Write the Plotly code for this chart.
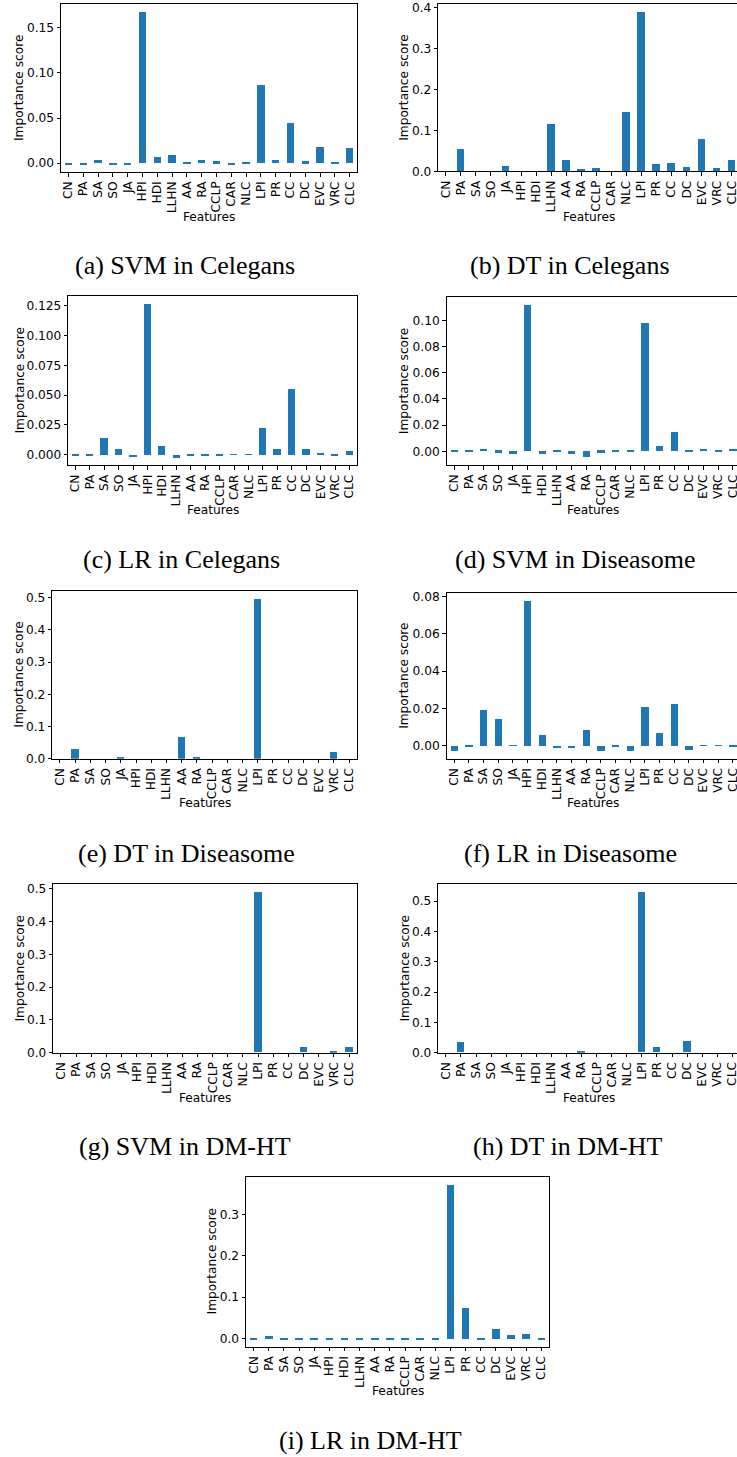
import plotly.graph_objects as go

features = ["CN", "PA", "SA", "SO", "JA", "HPI", "HDI", "LLHN", "AA", "RA",
            "CCLP", "CAR", "NLC", "LPI", "PR", "CC", "DC", "EVC", "VRC", "CLC"]

svm_celegans = [-0.0013, -0.0013, 0.0033, -0.0013, -0.0013, 0.168, 0.0066, 0.0088, 0.0011, 0.0033,
                0.0022, -0.0013, 0.0011, 0.0862, 0.0033, 0.0442, 0.0022, 0.0177, 0.0011, 0.0166]
dt_celegans = [0.0, 0.0545, 0.0, 0.0, 0.013, 0.0, 0.0, 0.1155, 0.0276, 0.0033,
               0.0081, 0.0, 0.1447, 0.388, 0.0179, 0.0203, 0.0106, 0.0789, 0.0081, 0.0276]
lr_celegans = [-0.0005, -0.0005, 0.0144, 0.0048, -0.002, 0.127, 0.0076, -0.0025, -0.0005, -0.0005,
               -0.0005, 0.0004, 0.0004, 0.0229, 0.0048, 0.0557, 0.0048, 0.0014, -0.0005, 0.0031]
svm_diseasome = [-0.0003, -0.0003, 0.0015, -0.0013, -0.002, 0.112, -0.002, -0.0003, -0.002, -0.0047,
                 -0.0013, -0.0003, -0.0003, 0.0982, 0.0041, 0.0148, -0.0003, 0.0015, -0.0003, 0.0018]
dt_diseasome = [0.0, 0.030, 0.0, 0.0, 0.005, 0.0, 0.0, 0.0, 0.0674, 0.005,
                0.0, 0.0, 0.0, 0.4967, 0.0, 0.0, 0.0, 0.0, 0.0207, 0.0]
lr_diseasome = [-0.0028, -0.0003, 0.0192, 0.0144, 0.0003, 0.0777, 0.0059, -0.0011, -0.0011, 0.0085,
                -0.0028, -0.0003, -0.0025, 0.0208, 0.0069, 0.0224, -0.002, 0.0003, 0.0003, -0.0003]
svm_dmht = [0.0, 0.0, 0.0, 0.0, 0.0, 0.0, 0.0, 0.0, 0.0, 0.0,
            0.0, 0.0, 0.0, 0.4898, 0.0, 0.0, 0.0174, 0.0, 0.004, 0.0174]
dt_dmht = [0.0, 0.0353, 0.0, 0.0, 0.0, 0.0, 0.0, 0.0, 0.0, 0.004,
           0.0, 0.0, 0.0, 0.5287, 0.0188, 0.0, 0.0386, 0.0, 0.0, 0.0]
lr_dmht = [-0.0015, 0.0065, -0.0015, -0.0015, -0.0015, -0.0015, -0.0015, -0.0015, -0.0015, -0.0015,
           -0.0015, -0.0015, -0.0015, 0.373, 0.0744, -0.0015, 0.0226, 0.0089, 0.0105, -0.0015]

captions = ["(a) SVM in Celegans", "(b) DT in Celegans", "(c) LR in Celegans",
            "(d) SVM in Diseasome", "(e) DT in Diseasome", "(f) LR in Diseasome",
            "(g) SVM in DM-HT", "(h) DT in DM-HT", "(i) LR in DM-HT"]

series = [svm_celegans, dt_celegans, lr_celegans, svm_diseasome, dt_diseasome,
          lr_diseasome, svm_dmht, dt_dmht, lr_dmht]

W, H = 737, 1457
BLUE = "#1f77b4"
FS = 12.2
TICKFONT = dict(family="DejaVu Sans", size=FS, color="black")

# pixel layout of each panel (axes box, range end, title / caption anchors)
panels = [
    dict(l=61, r=357, t=4, b=172, xend=19.5, right=True, dtick=0.05, fmt=".2f", yt=19, fy=217, cx=185, cy=265),
    dict(l=438.3, r=737, t=4.3, b=171.3, xend=19.35, right=False, dtick=0.1, fmt=".1f", yt=404, fy=217, cx=570, cy=265),
    dict(l=68.3, r=356.7, t=295.7, b=465.3, xend=19.5, right=True, dtick=0.025, fmt=".3f", yt=19, fy=510, cx=181, cy=559),
    dict(l=446.7, r=737, t=297.3, b=465, xend=19.29, right=False, dtick=0.02, fmt=".2f", yt=404, fy=510, cx=575, cy=559),
    dict(l=52.3, r=356.7, t=590.7, b=758.7, xend=19.5, right=True, dtick=0.1, fmt=".1f", yt=19, fy=803, cx=186, cy=854),
    dict(l=446.7, r=737, t=593, b=758.7, xend=19.29, right=False, dtick=0.02, fmt=".2f", yt=404, fy=803, cx=570, cy=854),
    dict(l=53.3, r=356.7, t=884.3, b=1052.7, xend=19.5, right=True, dtick=0.1, fmt=".1f", yt=19, fy=1098, cx=185, cy=1146),
    dict(l=438.3, r=737, t=884.3, b=1052.7, xend=19.31, right=False, dtick=0.1, fmt=".1f", yt=404, fy=1098, cx=568, cy=1146),
    dict(l=246, r=549, t=1176.7, b=1346.7, xend=19.5, right=True, dtick=0.1, fmt=".1f", yt=211.7, fy=1391, cx=370, cy=1440),
]


def yrange(vals):
    lo = min(min(vals), 0.0)
    hi = max(max(vals), 0.0)
    span = hi - lo
    bottom = lo - 0.05 * span if lo < 0 else 0.0
    top = hi + 0.05 * span if hi > 0 else 0.0
    return [bottom, top]


fig = go.Figure()
annotations = []
for i, (vals, p, cap) in enumerate(zip(series, panels, captions), start=1):
    sfx = "" if i == 1 else str(i)
    fig.add_trace(go.Bar(x=features, y=vals, width=0.5, marker=dict(color=BLUE, line=dict(width=0)),
                         xaxis="x" + sfx, yaxis="y" + sfx, showlegend=False))
    xd = [p["l"] / W, min(p["r"] / W, 1.0)]
    yd = [1 - p["b"] / H, 1 - p["t"] / H]
    fig.layout["xaxis" + sfx] = dict(
        domain=xd, anchor="y" + sfx, type="category", categoryorder="array", categoryarray=features,
        tickmode="array", tickvals=features, ticktext=features,
        range=[-0.5, p["xend"]], tickangle=-90, ticks="outside", ticklen=3.5, tickwidth=0.9,
        tickcolor="black", showline=True, linecolor="black", linewidth=1, mirror=True,
        showgrid=False, zeroline=False, tickfont=TICKFONT, automargin=False, fixedrange=True)
    fig.layout["yaxis" + sfx] = dict(
        domain=yd, anchor="x" + sfx, range=yrange(vals), dtick=p["dtick"], tick0=0,
        tickformat=p["fmt"], ticks="outside", ticklen=3.5, tickwidth=0.9, tickcolor="black",
        showline=True, linecolor="black", linewidth=1, mirror=p["right"], showgrid=False,
        zeroline=False, tickfont=TICKFONT, automargin=False, fixedrange=True)
    full_w = 20 * (p["r"] - p["l"]) / (p["xend"] + 0.5)
    annotations.append(dict(text="Importance score", x=p["yt"] / W, y=1 - (p["t"] + p["b"]) / 2 / H,
                            xref="paper", yref="paper", textangle=-90, showarrow=False,
                            xanchor="center", yanchor="middle",
                            font=dict(family="DejaVu Sans", size=FS, color="black")))
    annotations.append(dict(text="Features", x=(p["l"] + full_w / 2) / W,
                            y=1 - p["fy"] / H, xref="paper", yref="paper", showarrow=False,
                            xanchor="center", yanchor="middle",
                            font=dict(family="DejaVu Sans", size=FS, color="black")))
    annotations.append(dict(text=cap, x=p["cx"] / W, y=1 - p["cy"] / H, xref="paper", yref="paper",
                            showarrow=False, xanchor="center", yanchor="middle",
                            font=dict(family="Liberation Serif", size=26, color="black")))

fig.update_layout(width=W, height=H, margin=dict(l=0, r=0, t=0, b=0),
                  paper_bgcolor="white", plot_bgcolor="white", bargap=0,
                  annotations=annotations, showlegend=False)

fig.write_html("out.html", config={"displayModeBar": False},
               post_script="document.body.style.margin='0';document.body.style.padding='0';"
                           "document.body.style.overflow='hidden';")
